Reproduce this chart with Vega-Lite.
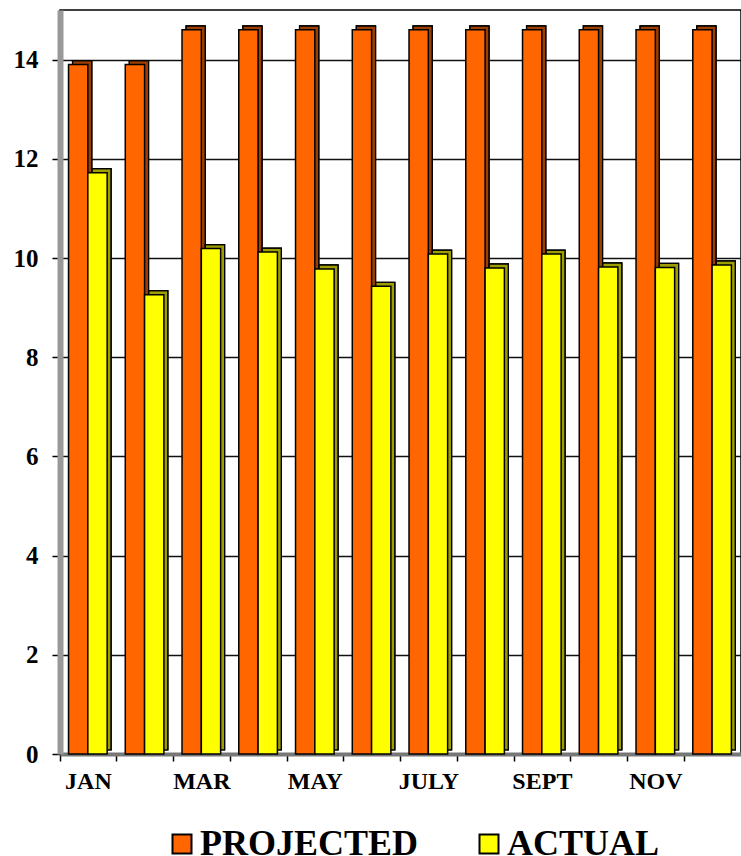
{
  "$schema": "https://vega.github.io/schema/vega-lite/v6.json",
  "width": 681,
  "height": 744,
  "autosize": {"type": "none"},
  "padding": {"left": 60, "top": 10, "right": 0, "bottom": 102},
  "background": "#ffffff",
  "config": {
    "font": "Liberation Serif",
    "view": {"stroke": "#000000", "strokeWidth": 1.5}
  },
  "data": {
    "values": [
      {"month": "JAN", "series": "PROJECTED", "value": 13.9},
      {"month": "FEB", "series": "PROJECTED", "value": 13.9},
      {"month": "MAR", "series": "PROJECTED", "value": 14.6},
      {"month": "APR", "series": "PROJECTED", "value": 14.6},
      {"month": "MAY", "series": "PROJECTED", "value": 14.6},
      {"month": "JUNE", "series": "PROJECTED", "value": 14.6},
      {"month": "JULY", "series": "PROJECTED", "value": 14.6},
      {"month": "AUG", "series": "PROJECTED", "value": 14.6},
      {"month": "SEPT", "series": "PROJECTED", "value": 14.6},
      {"month": "OCT", "series": "PROJECTED", "value": 14.6},
      {"month": "NOV", "series": "PROJECTED", "value": 14.6},
      {"month": "DEC", "series": "PROJECTED", "value": 14.6},
      {"month": "JAN", "series": "ACTUAL", "value": 11.72},
      {"month": "FEB", "series": "ACTUAL", "value": 9.26},
      {"month": "MAR", "series": "ACTUAL", "value": 10.19},
      {"month": "APR", "series": "ACTUAL", "value": 10.12},
      {"month": "MAY", "series": "ACTUAL", "value": 9.78},
      {"month": "JUNE", "series": "ACTUAL", "value": 9.43},
      {"month": "JULY", "series": "ACTUAL", "value": 10.08},
      {"month": "AUG", "series": "ACTUAL", "value": 9.8},
      {"month": "SEPT", "series": "ACTUAL", "value": 10.08},
      {"month": "OCT", "series": "ACTUAL", "value": 9.82},
      {"month": "NOV", "series": "ACTUAL", "value": 9.81},
      {"month": "DEC", "series": "ACTUAL", "value": 9.86}
    ]
  },
  "encoding": {
    "x": {
      "field": "month",
      "type": "nominal",
      "sort": null,
      "scale": {"paddingInner": 0, "paddingOuter": 0},
      "axis": {
        "title": null,
        "bandPosition": 0,
        "labelAngle": 0,
        "labelExpr": "indexof(['JAN','MAR','MAY','JULY','SEPT','NOV'], datum.value) >= 0 ? datum.label : ''",
        "labelFont": "Liberation Serif",
        "labelFontSize": 24,
        "labelFontWeight": "bold",
        "labelColor": "#000000",
        "labelPadding": 8,
        "domainColor": "#777777",
        "domainWidth": 4,
        "tickColor": "#000000",
        "tickWidth": 1.5,
        "tickSize": 7
      }
    },
    "y": {
      "field": "value",
      "type": "quantitative",
      "scale": {"domain": [0, 15], "nice": false, "zero": true},
      "axis": {
        "title": null,
        "values": [0, 2, 4, 6, 8, 10, 12, 14],
        "grid": true,
        "gridColor": "#111111",
        "gridWidth": 1.5,
        "labelFont": "Liberation Serif",
        "labelFontSize": 25,
        "labelFontWeight": "bold",
        "labelColor": "#000000",
        "labelPadding": 14,
        "domainColor": "#999999",
        "domainWidth": 6,
        "tickColor": "#000000",
        "tickWidth": 1.5,
        "tickSize": 8
      }
    },
    "color": {
      "field": "series",
      "type": "nominal",
      "scale": {"domain": ["PROJECTED", "ACTUAL"], "range": ["#FF6600", "#FFFF00"]},
      "legend": {
        "title": null,
        "orient": "none",
        "legendX": 104,
        "legendY": 816,
        "direction": "horizontal",
        "symbolType": "square",
        "symbolSize": 361,
        "symbolStrokeColor": "#000000",
        "symbolStrokeWidth": 2,
        "labelFont": "Liberation Serif",
        "labelFontSize": 36,
        "labelFontWeight": "bold",
        "labelColor": "#000000",
        "labelOffset": 0,
        "labelLimit": 400,
        "columnPadding": 52
      }
    }
  },
  "resolve": {"scale": {"xOffset": "independent"}},
  "layer": [
    {
      "mark": {"type": "bar", "yOffset": -4, "stroke": "#000000", "strokeWidth": 1.2},
      "encoding": {
        "xOffset": {
          "field": "series",
          "type": "nominal",
          "sort": ["PROJECTED", "ACTUAL"],
          "scale": {"paddingInner": 0, "paddingOuter": 0.47, "align": 0.47, "range": [4, 60.75]}
        }
      }
    },
    {
      "mark": {"type": "bar", "yOffset": -4, "fill": "#000000", "fillOpacity": 0.38, "stroke": "#000000", "strokeWidth": 1.2},
      "encoding": {
        "color": null,
        "xOffset": {
          "field": "series",
          "type": "nominal",
          "sort": ["PROJECTED", "ACTUAL"],
          "scale": {"paddingInner": 0, "paddingOuter": 0.47, "align": 0.47, "range": [4, 60.75]}
        }
      }
    },
    {
      "mark": {"type": "bar", "stroke": "#000000", "strokeWidth": 1.5},
      "encoding": {
        "xOffset": {
          "field": "series",
          "type": "nominal",
          "sort": ["PROJECTED", "ACTUAL"],
          "scale": {"paddingInner": 0, "paddingOuter": 0.47, "align": 0.47}
        }
      }
    }
  ]
}
